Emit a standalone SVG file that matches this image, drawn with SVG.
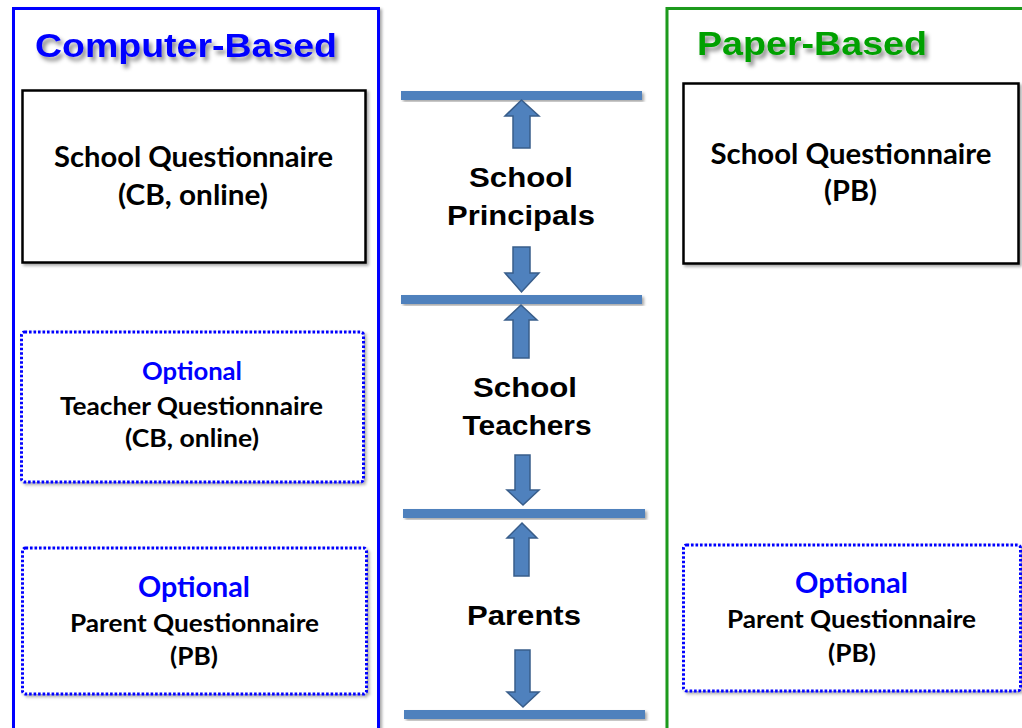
<svg xmlns="http://www.w3.org/2000/svg" width="1022" height="728" viewBox="0 0 1022 728">
  <defs>
    <filter id="sh" x="-10%" y="-10%" width="130%" height="130%">
      <feDropShadow dx="2" dy="2" stdDeviation="1.5" flood-color="#000" flood-opacity="0.35"/>
    </filter>
    <filter id="tsh" x="-10%" y="-30%" width="130%" height="170%">
      <feDropShadow dx="3" dy="4" stdDeviation="2" flood-color="#000" flood-opacity="0.45"/>
    </filter>
  </defs>
  <style>
    .panel { fill: #fff; stroke-width: 3; filter: url(#sh); }
    .box { fill: #fff; stroke: #000; stroke-width: 2.5; filter: url(#sh); }
    .dbox { fill: #fff; stroke: #0000ff; stroke-width: 3; stroke-dasharray: 2.6 1.9; filter: url(#sh); }
    .title { font-family: "Liberation Sans", Arial, sans-serif; font-weight: bold; font-size: 34px; filter: url(#tsh); }
    .cal { font-family: Lato, "Open Sans", sans-serif; font-weight: bold; text-anchor: middle; fill: #000; }
    .big { font-size: 28px; }
    .mid { font-size: 25px; }
    .opt { fill: #0000ff; }
    .lvl { font-family: "Liberation Sans", Arial, sans-serif; font-weight: bold; font-size: 28px; text-anchor: middle; fill: #000; }
    .bar { fill: #4f81bd; filter: url(#sh); }
    .arr { fill: #4f81bd; stroke: #385d8a; stroke-width: 1.5; stroke-linejoin: miter; }
  </style>

  <g id="panel-computer">
    <rect class="panel" x="13.5" y="8.5" width="365" height="740" stroke="#0000ff"/>
    <text class="title" x="35" y="57" fill="#0000ff" textLength="302" lengthAdjust="spacingAndGlyphs">Computer-Based</text>
  </g>
  <g id="panel-paper">
    <rect class="panel" x="667" y="8.5" width="400" height="740" stroke="#1a9a1a"/>
    <text class="title" x="697" y="55" fill="#00a000" textLength="230" lengthAdjust="spacingAndGlyphs">Paper-Based</text>
  </g>

  <g id="cb-school">
    <rect class="box" x="22.5" y="90.5" width="343" height="172"/>
    <text class="cal big" x="193.5" y="167" textLength="279" lengthAdjust="spacingAndGlyphs">School Questionnaire</text>
    <text class="cal big" x="193" y="205" textLength="150" lengthAdjust="spacingAndGlyphs">(CB, online)</text>
  </g>
  <g id="cb-teacher">
    <rect class="dbox" x="21.5" y="332" width="342" height="150" rx="3"/>
    <text class="cal mid opt" x="192" y="380" textLength="100" lengthAdjust="spacingAndGlyphs">Optional</text>
    <text class="cal mid" x="191.5" y="415" textLength="263" lengthAdjust="spacingAndGlyphs">Teacher Questionnaire</text>
    <text class="cal mid" x="192" y="447" textLength="134" lengthAdjust="spacingAndGlyphs">(CB, online)</text>
  </g>
  <g id="cb-parent">
    <rect class="dbox" x="22.5" y="548" width="344" height="146" rx="3"/>
    <text class="cal big opt" x="194" y="597" textLength="112" lengthAdjust="spacingAndGlyphs">Optional</text>
    <text class="cal mid" x="194.5" y="632" textLength="249" lengthAdjust="spacingAndGlyphs">Parent Questionnaire</text>
    <text class="cal mid" x="194" y="665" textLength="48" lengthAdjust="spacingAndGlyphs">(PB)</text>
  </g>

  <g id="pb-school">
    <rect class="box" x="683.5" y="83.5" width="335" height="180"/>
    <text class="cal big" x="851" y="164" textLength="281" lengthAdjust="spacingAndGlyphs">School Questionnaire</text>
    <text class="cal big" x="850.5" y="201" textLength="53" lengthAdjust="spacingAndGlyphs">(PB)</text>
  </g>
  <g id="pb-parent">
    <rect class="dbox" x="683.5" y="545" width="337" height="146" rx="3"/>
    <text class="cal big opt" x="851.5" y="593" textLength="113" lengthAdjust="spacingAndGlyphs">Optional</text>
    <text class="cal mid" x="851.5" y="628" textLength="249" lengthAdjust="spacingAndGlyphs">Parent Questionnaire</text>
    <text class="cal mid" x="852" y="662" textLength="48" lengthAdjust="spacingAndGlyphs">(PB)</text>
  </g>

  <g id="levels">
    <rect class="bar" x="401" y="91" width="241" height="9"/>
    <rect class="bar" x="401" y="295" width="241" height="9"/>
    <rect class="bar" x="403" y="509" width="242" height="9"/>
    <rect class="bar" x="404" y="710" width="241" height="9"/>
  </g>

  <g id="principals">
    <text class="lvl" x="521" y="187" textLength="104" lengthAdjust="spacingAndGlyphs">School</text>
    <text class="lvl" x="521" y="225" textLength="148" lengthAdjust="spacingAndGlyphs">Principals</text>
  </g>
  <g id="teachers">
    <text class="lvl" x="525" y="397" textLength="104" lengthAdjust="spacingAndGlyphs">School</text>
    <text class="lvl" x="527" y="435" textLength="129" lengthAdjust="spacingAndGlyphs">Teachers</text>
  </g>
  <g id="parents">
    <text class="lvl" x="524" y="625" textLength="114" lengthAdjust="spacingAndGlyphs">Parents</text>
  </g>

  <g id="connectors">
    <polygon class="arr" points="521.5,100 539,116 530,116 530,148 513,148 513,116 505,116"/>
    <polygon class="arr" points="513,247 530,247 530,273 539,273 521.5,292 505,273 513,273"/>
    <polygon class="arr" points="521,305 537,320 529,320 529,358 513,358 513,320 505,320"/>
    <polygon class="arr" points="515,455 530,455 530,490 539,490 523,505 507,490 515,490"/>
    <polygon class="arr" points="522,523 537,538 529,538 529,576 514,576 514,538 507,538"/>
    <polygon class="arr" points="515,650 530,650 530,692 539,692 523,707 507,692 515,692"/>
  </g>
</svg>
